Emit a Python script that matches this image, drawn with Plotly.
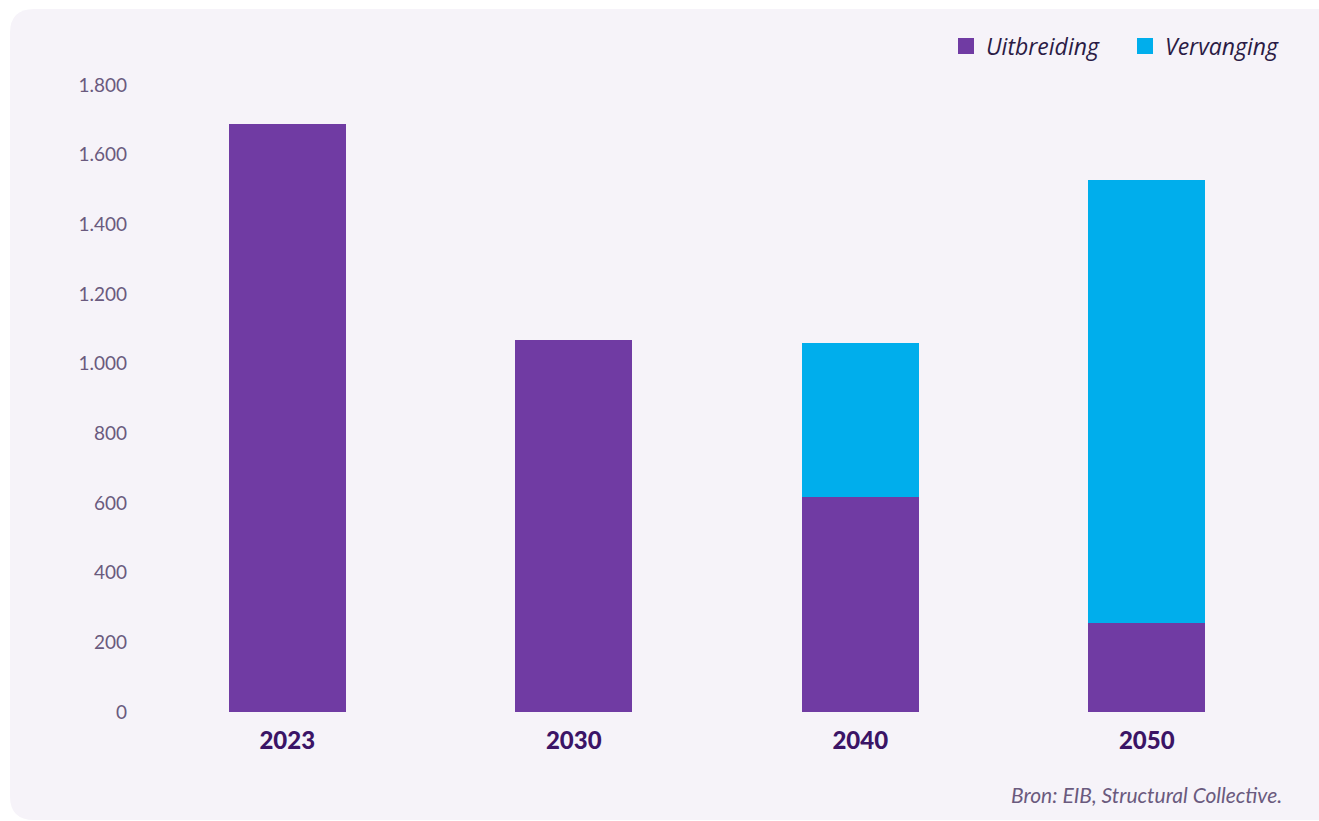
import plotly.graph_objects as go

years = ["2023", "2030", "2040", "2050"]
uitbreiding = [1688, 1068, 617, 255]
vervanging = [0, 0, 442, 1272]
y_ticks = [0, 200, 400, 600, 800, 1000, 1200, 1400, 1600, 1800]

PURPLE = "#703BA3"
CYAN = "#00AEEC"
CARD = "#F6F3F9"

W, H = 1319, 821
L, R, T, B = 144, 29, 85, 109
pw, ph = W - L - R, H - T - B

def px_x(x):
    return (x - L) / pw

def px_y(y):
    return (H - B - y) / ph

fig = go.Figure()
fig.add_bar(x=years, y=uitbreiding, marker=dict(color=PURPLE, line=dict(width=0)),
            name="Uitbreiding", width=0.41, showlegend=False)
fig.add_bar(x=years, y=vervanging, marker=dict(color=CYAN, line=dict(width=0)),
            name="Vervanging", width=0.41, showlegend=False)
# legend swatches
fig.add_scatter(x=[None], y=[None], mode="markers", name="Uitbreiding",
                marker=dict(symbol="square", size=20, color=PURPLE))
fig.add_scatter(x=[None], y=[None], mode="markers", name="Vervanging",
                marker=dict(symbol="square", size=20, color=CYAN))

# rounded card background
x0, y0, x1, y1, r = px_x(10), px_y(9), px_x(1345), px_y(820), 24
rx, ry = r / pw, r / ph
path = (f"M {x0+rx},{y0} L {x1-rx},{y0} Q {x1},{y0} {x1},{y0-ry} "
        f"L {x1},{y1+ry} Q {x1},{y1} {x1-rx},{y1} L {x0+rx},{y1} "
        f"Q {x0},{y1} {x0},{y1+ry} L {x0},{y0-ry} Q {x0},{y0} {x0+rx},{y0} Z")
fig.add_shape(type="path", path=path, xref="paper", yref="paper",
              fillcolor=CARD, line=dict(width=0), layer="below")

fig.add_annotation(text="Bron: EIB, Structural Collective.", xref="paper", yref="paper",
                   x=px_x(1284), y=px_y(794), xanchor="right", yanchor="middle",
                   showarrow=False,
                   font=dict(family="Lato", size=21, color="#6A5A7E", style="italic"))

fig.update_layout(
    width=W, height=H,
    margin=dict(l=L, r=R, t=T, b=B, autoexpand=False),
    barmode="stack",
    paper_bgcolor="white",
    plot_bgcolor="rgba(0,0,0,0)",
    separators=",.",
    font=dict(family="Lato"),
    legend=dict(orientation="h", xanchor="left", x=px_x(946), yanchor="middle",
                y=px_y(46), bgcolor="rgba(0,0,0,0)", traceorder="normal",
                font=dict(family="Open Sans", size=23, color="#2B1B45", style="italic"),
                entrywidth=134, entrywidthmode="pixels",
                itemwidth=30, tracegroupgap=0),
    xaxis=dict(type="category", showgrid=False, zeroline=False, showline=False,
               ticks="", ticklabelstandoff=12,
               tickfont=dict(family="Lato", size=24, color="#3B1466", weight=900)),
    yaxis=dict(range=[0, 1800], tickvals=y_ticks, tickformat=",d", showgrid=False,
               zeroline=False, showline=False, ticks="", ticklabelstandoff=16,
               tickfont=dict(family="Lato", size=19, color="#6A5A7E")),
)

fig.write_html("out.html", post_script="document.body.style.margin='0';",
               config={"displayModeBar": False})
